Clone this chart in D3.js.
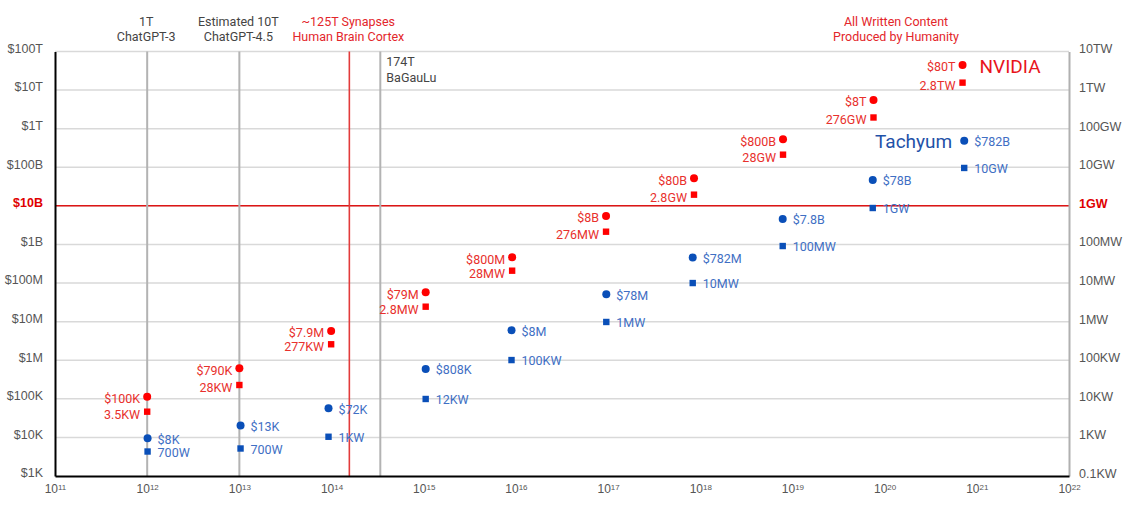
<!DOCTYPE html>
<html>
<head>
<meta charset="utf-8">
<script src="https://cdn.jsdelivr.net/npm/d3@7"></script>
<style>
  html, body { margin: 0; padding: 0; background: #fff; }
  svg { display: block; font-family: Roboto, "Noto Sans", "DejaVu Sans", sans-serif; }
</style>
</head>
<body>
<svg id="chart" width="1124" height="510"></svg>
<script>
// ---------------- data ----------------
const xTickExponents = [11, 12, 13, 14, 15, 16, 17, 18, 19, 20, 21, 22];
const costTickValues = [1e3, 1e4, 1e5, 1e6, 1e7, 1e8, 1e9, 1e10, 1e11, 1e12, 1e13, 1e14];
const costTickLabels = ["$1K", "$10K", "$100K", "$1M", "$10M", "$100M", "$1B", "$10B", "$100B", "$1T", "$10T", "$100T"];
const powerTickValues = [1e2, 1e3, 1e4, 1e5, 1e6, 1e7, 1e8, 1e9, 1e10, 1e11, 1e12, 1e13];
const powerTickLabels = ["0.1KW", "1KW", "10KW", "100KW", "1MW", "10MW", "100MW", "1GW", "10GW", "100GW", "1TW", "10TW"];

// NVIDIA (red) series
const nvidiaParams = [1e12, 1e13, 9.9e13, 1.05e15, 9.1e15, 9.5e16, 8.55e17, 7.9e18, 7.57e19, 7.0e20];
const nvidiaCost = [1.13e5, 6.18e5, 5.72e6, 5.75e7, 4.65e8, 5.46e9, 5.18e10, 5.31e11, 5.54e12, 4.47e13];
const nvidiaCostLabels = ["$100K", "$790K", "$7.9M", "$79M", "$800M", "$8B", "$80B", "$800B", "$8T", "$80T"];
const nvidiaPower = [4.64e3, 2.28e4, 2.59e5, 2.44e6, 2.09e7, 2.14e8, 1.95e9, 2.12e10, 1.95e11, 1.56e12];
const nvidiaPowerLabels = ["3.5KW", "28KW", "277KW", "2.8MW", "28MW", "276MW", "2.8GW", "28GW", "276GW", "2.8TW"];

// Tachyum (blue) series
const tachyumParams = [1.01e12, 1.03e13, 9.27e13, 1.05e15, 8.96e15, 9.56e16, 8.28e17, 7.84e18, 7.43e19, 7.3e20];
const tachyumCost = [9.48e3, 2.05e4, 5.68e4, 5.93e5, 5.97e6, 5.11e7, 4.59e8, 4.57e9, 4.68e10, 4.89e11];
const tachyumCostLabels = ["$8K", "$13K", "$72K", "$808K", "$8M", "$78M", "$782M", "$7.8B", "$78B", "$782B"];
const tachyumPower = [431, 516, 1040, 9.9e3, 1.01e5, 9.8e5, 1.0e7, 9.1e7, 8.8e8, 9.6e9];
const tachyumPowerLabels = ["700W", "700W", "1KW", "12KW", "100KW", "1MW", "10MW", "100MW", "1GW", "10GW"];

// reference lines (parameter counts)
const refParams = [1e12, 1e13, 1.56e14, 3.38e14];
const refLabels = [["1T", "ChatGPT-3"], ["Estimated 10T", "ChatGPT-4.5"], ["~125T Synapses", "Human Brain Cortex"], ["174T", "BaGauLu"]];
const refKinds = ["gray", "gray", "red", "grayInside"];
const thresholdCost = 1e10;
const writtenContentParam = 1.33e20;
const writtenContentLabel = ["All Written Content", "Produced by Humanity"];

// ---------------- chart ----------------
const svg = d3.select("#chart");
const RED = "#ff0000", RED_TXT = "#e8302c", BLUE = "#0a4fb8", BLUE_TXT = "#3f6fc4";
const TICK_TXT = "#555";

const x = d3.scaleLog().domain([1e11, 1e22]).range([55, 1069]);
const yCost = d3.scaleLog().domain([1e3, 1e14]).range([476, 51.5]);
const yPower = d3.scaleLog().domain([1e2, 1e13]).range([476, 51.5]);

const [x0, x1] = x.range();
const [yb, yt] = yCost.range();

// gridlines
svg.append("g").attr("class", "grid")
  .selectAll("line").data(costTickValues.slice(1)).join("line")
  .attr("x1", x0).attr("x2", x1)
  .attr("y1", d => yCost(d)).attr("y2", d => yCost(d))
  .attr("stroke", "#d9d9d9").attr("stroke-width", 1.5);

// threshold line $10B / 1GW
svg.append("line")
  .attr("x1", x0).attr("x2", x1)
  .attr("y1", yCost(thresholdCost)).attr("y2", yCost(thresholdCost))
  .attr("stroke", "#dd1515").attr("stroke-width", 1.5);

// vertical reference lines
svg.append("g").selectAll("line").data(refParams).join("line")
  .attr("x1", d => x(d)).attr("x2", d => x(d))
  .attr("y1", yt).attr("y2", yb)
  .attr("stroke", (d, i) => refKinds[i] === "red" ? "#e23b3b" : "#b3b3b3")
  .attr("stroke-width", (d, i) => refKinds[i] === "red" ? 1.6 : 2);

// reference labels
refParams.forEach((p, i) => {
  const kind = refKinds[i];
  const t = svg.append("text")
    .attr("font-size", 12.5)
    .attr("fill", kind === "red" ? "#e3262b" : "#444");
  if (kind === "grayInside") {
    t.attr("text-anchor", "start");
    refLabels[i].forEach((s, k) => {
      t.append("tspan").attr("x", x(p) + 6).attr("y", 62 + k * 15.6).attr("dy", "0.35em").text(s);
    });
  } else {
    t.attr("text-anchor", "middle");
    refLabels[i].forEach((s, k) => {
      t.append("tspan").attr("x", x(p) - 1).attr("y", 21.5 + k * 15.6).attr("dy", "0.35em").text(s);
    });
  }
});

// written content label
{
  const t = svg.append("text").attr("font-size", 12.5).attr("fill", "#e3262b").attr("text-anchor", "middle");
  writtenContentLabel.forEach((s, k) => {
    t.append("tspan").attr("x", x(writtenContentParam)).attr("y", 21.5 + k * 15.6).attr("dy", "0.35em").text(s);
  });
}

// left axis
const gL = svg.append("g").attr("transform", `translate(${x0},0)`)
  .call(d3.axisLeft(yCost).tickValues(costTickValues)
    .tickFormat((d, i) => costTickLabels[i]).tickSize(0).tickPadding(12).tickSizeOuter(0));
gL.select(".domain").attr("stroke", "#000").attr("stroke-width", 2);
gL.selectAll("text")
  .attr("font-size", 12.5).attr("font-family", null)
  .attr("dy", "0.35em")
  .attr("transform", "translate(0,-3.5)")
  .attr("fill", d => d === thresholdCost ? "#e00000" : TICK_TXT)
  .attr("font-weight", d => d === thresholdCost ? "bold" : null);

// right axis
const gR = svg.append("g").attr("transform", `translate(${x1},0)`)
  .call(d3.axisRight(yPower).tickValues(powerTickValues)
    .tickFormat((d, i) => powerTickLabels[i]).tickSize(0).tickPadding(10).tickSizeOuter(0));
gR.select(".domain").attr("stroke", "#b0b0b0").attr("stroke-width", 2);
gR.selectAll("text")
  .attr("font-size", 12.5).attr("font-family", null)
  .attr("dy", "0.35em")
  .attr("transform", "translate(0,-3)")
  .attr("fill", d => d === thresholdCost / 10 ? "#e00000" : TICK_TXT)
  .attr("font-weight", d => d === thresholdCost / 10 ? "bold" : null);

// bottom axis
const xTickValues = xTickExponents.map(e => Math.pow(10, e));
const gB = svg.append("g").attr("transform", `translate(0,${yb})`)
  .call(d3.axisBottom(x).tickValues(xTickValues).tickFormat("").tickSize(0).tickSizeOuter(0).tickPadding(0));
gB.select(".domain").attr("stroke", "#000").attr("stroke-width", 2);
gB.selectAll(".tick text").each(function(d, i) {
  const t = d3.select(this);
  t.text(null).attr("font-size", 12).attr("font-family", null).attr("fill", "#555")
    .attr("y", 13).attr("dy", "0.35em").attr("x", 0);
  t.append("tspan").text("10");
  t.append("tspan").attr("font-size", 8).attr("dy", "-0.45em").text(xTickExponents[i]);
});

// markers
function drawSeries(params, cost, power, color) {
  const g = svg.append("g");
  g.selectAll("circle").data(params).join("circle")
    .attr("cx", d => x(d)).attr("cy", (d, i) => yCost(cost[i])).attr("r", 4)
    .attr("fill", color);
  g.selectAll("rect").data(params).join("rect")
    .attr("x", d => x(d) - 3.2).attr("y", (d, i) => yPower(power[i]) - 3.2)
    .attr("width", 6.4).attr("height", 6.4)
    .attr("fill", color);
}
drawSeries(nvidiaParams, nvidiaCost, nvidiaPower, RED);
drawSeries(tachyumParams, tachyumCost, tachyumPower, BLUE);

// NVIDIA labels (left of marks)
const gNL = svg.append("g").attr("font-size", 12.5).attr("fill", RED_TXT).attr("text-anchor", "end");
gNL.selectAll("text.c").data(nvidiaParams).join("text").attr("class", "c")
  .attr("x", d => x(d) - 7).attr("y", (d, i) => yCost(nvidiaCost[i]) + 2)
  .attr("dy", "0.35em").text((d, i) => nvidiaCostLabels[i]);
gNL.selectAll("text.p").data(nvidiaParams).join("text").attr("class", "p")
  .attr("x", d => x(d) - 7).attr("y", (d, i) => yPower(nvidiaPower[i]) + 2.5)
  .attr("dy", "0.35em").text((d, i) => nvidiaPowerLabels[i]);

// Tachyum labels (right of marks)
const gTL = svg.append("g").attr("font-size", 12.5).attr("fill", BLUE_TXT).attr("text-anchor", "start");
gTL.selectAll("text.c").data(tachyumParams).join("text").attr("class", "c")
  .attr("x", d => x(d) + 10).attr("y", (d, i) => yCost(tachyumCost[i]) + 1)
  .attr("dy", "0.35em").text((d, i) => tachyumCostLabels[i]);
gTL.selectAll("text.p").data(tachyumParams).join("text").attr("class", "p")
  .attr("x", d => x(d) + 10).attr("y", (d, i) => yPower(tachyumPower[i]) + 1)
  .attr("dy", "0.35em").text((d, i) => tachyumPowerLabels[i]);

// series names
const nLast = nvidiaParams.length - 1;
svg.append("text")
  .attr("x", x(nvidiaParams[nLast]) + 17).attr("y", yCost(nvidiaCost[nLast]) + 1)
  .attr("dy", "0.35em").attr("font-size", 19).attr("fill", "#e8141c").text("NVIDIA");
const tLast = tachyumParams.length - 1;
svg.append("text")
  .attr("x", x(tachyumParams[tLast]) - 12).attr("y", yCost(tachyumCost[tLast]) + 1)
  .attr("dy", "0.35em").attr("font-size", 19).attr("fill", "#1f52a8")
  .attr("text-anchor", "end").text("Tachyum");
</script>
</body>
</html>
